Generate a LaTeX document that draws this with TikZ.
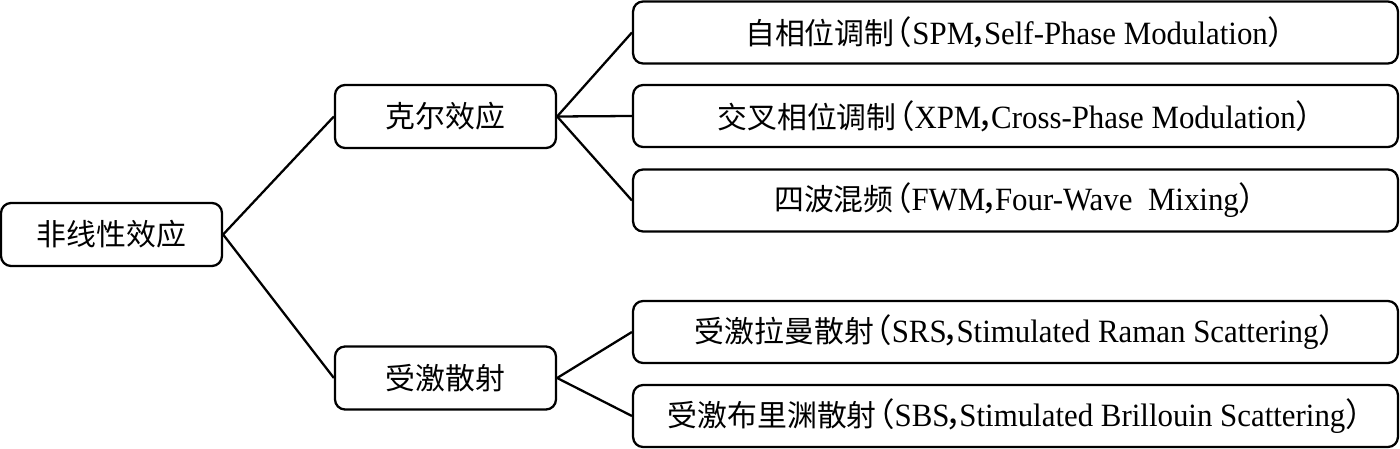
\documentclass[tikz,border=0pt]{standalone}
\usepackage{fontspec}
\setmainfont{Liberation Serif}[FakeStretch=0.95]
\newfontfamily\cjk{Noto Sans CJK SC}
\usetikzlibrary{positioning}
% narrow CJK punctuation
\newcommand{\zhlp}{\makebox[0.55em][r]{\cjk （}}
\newcommand{\zhrp}{\makebox[0.55em][l]{\cjk ）}}
\newcommand{\zhcomma}{\makebox[0.3em][l]{\kern-0.12em\cjk ，}}

\begin{document}
\begin{tikzpicture}[x=0.02cm, y=-0.02cm,
    box/.style={draw, line width=1.3pt, rounded corners=0.2cm, inner sep=0pt,
        font=\fontsize{17}{20}\selectfont},
    rootbox/.style={box, minimum width=4.42cm, minimum height=1.26cm},
    midbox/.style={box, minimum width=4.42cm, minimum height=1.26cm},
    leafbox/.style={box, minimum width=15.3cm, minimum height=1.24cm},
    latin/.style={font=\fontsize{18.5}{20}\selectfont},
    link/.style={line width=1.3pt}]
    \useasboundingbox (0,0) rectangle (1400,449);

    % Root
    \node[rootbox] (nonlin) at (111.5,234.5) {\cjk 非线性效应};

    % Second level
    \node[midbox] (kerr) at (445.5,116.5) {\cjk 克尔效应};
    \node[midbox] (stim) at (445.5,378) {\cjk 受激散射};

    % Kerr effects
    \node[leafbox, latin] (spm) at (1015.5,32.5) {{\cjk\fontsize{17}{20}\selectfont 自相位调制}\zhlp SPM\zhcomma Self-Phase Modulation\zhrp};
    \node[leafbox, latin] (xpm) at (1015.5,116) {{\cjk\fontsize{17}{20}\selectfont 交叉相位调制}\zhlp XPM\zhcomma Cross-Phase Modulation\zhrp};
    \node[leafbox, latin] (fwm) at (1015.5,200.5) {{\cjk\fontsize{17}{20}\selectfont 四波混频}\zhlp FWM\zhcomma Four-Wave\ \ Mixing\zhrp};

    % Stimulated scattering
    \node[leafbox, latin] (srs) at (1015.5,332) {{\cjk\fontsize{17}{20}\selectfont 受激拉曼散射}\zhlp SRS\zhcomma Stimulated Raman Scattering\zhrp};
    \node[leafbox, latin] (sbs) at (1015.5,416) {{\cjk\fontsize{17}{20}\selectfont 受激布里渊散射}\zhlp SBS\zhcomma Stimulated Brillouin Scattering\zhrp};

    % Connectors
    \draw[link] (nonlin.east) -- (kerr.west);
    \draw[link] (nonlin.east) -- (stim.west);
    \foreach \leaf in {spm, xpm, fwm}
        \draw[link] (kerr.east) -- (\leaf.west);
    \foreach \leaf in {srs, sbs}
        \draw[link] (stim.east) -- (\leaf.west);
\end{tikzpicture}
\end{document}
